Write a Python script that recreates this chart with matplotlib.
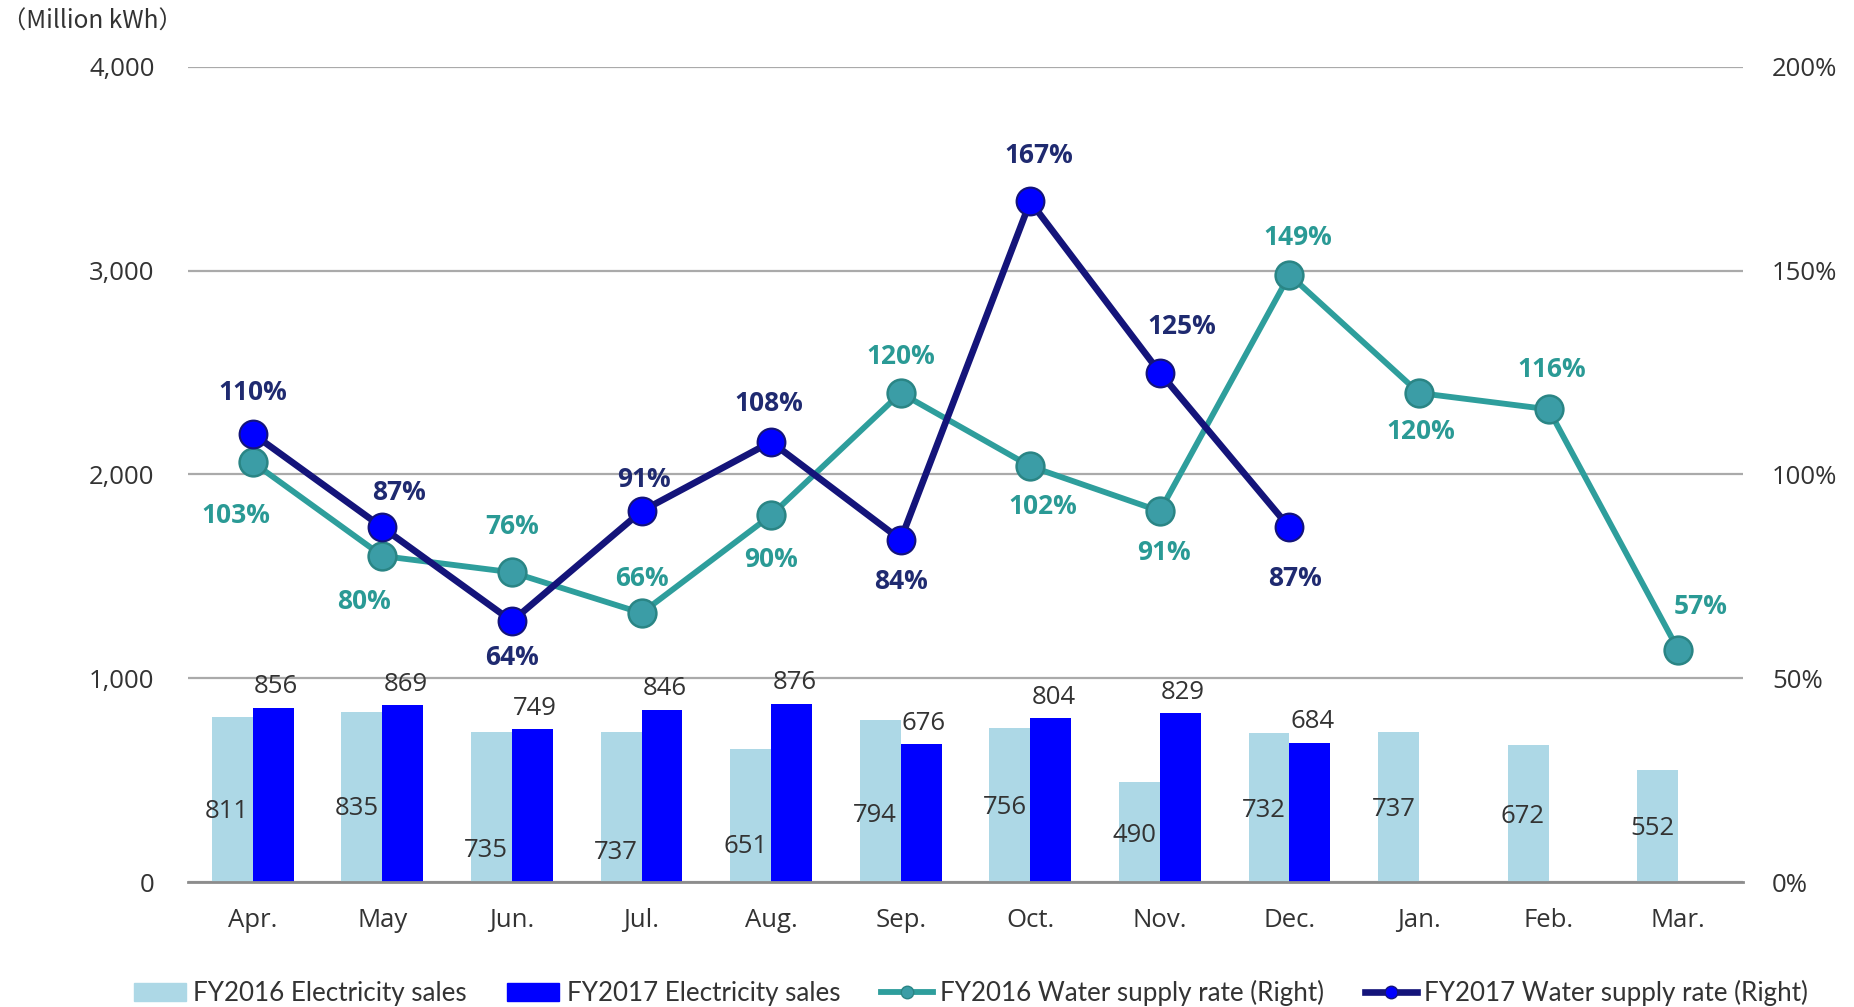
import matplotlib.pyplot as plt
from matplotlib.patches import Patch
from matplotlib.lines import Line2D
import numpy as np

# data
months = ['Apr.', 'May', 'Jun.', 'Jul.', 'Aug.', 'Sep.', 'Oct.', 'Nov.', 'Dec.', 'Jan.', 'Feb.', 'Mar.']
sales_2016 = [811, 835, 735, 737, 651, 794, 756, 490, 732, 737, 672, 552]
sales_2017 = [856, 869, 749, 846, 876, 676, 804, 829, 684]
water_2016 = [103, 80, 76, 66, 90, 120, 102, 91, 149, 120, 116, 57]
water_2017 = [110, 87, 64, 91, 108, 84, 167, 125, 87]

# label placement (layout only)
lbl16_y = [345, 362, 155, 143, 172, 328, 368, 230, 350, 356, 322, 265]
off16 = [(-12, -38), (-13, -33), (0, 33), (0, 25), (0, -32), (0, 26), (9, -29), (3, -30), (6, 27), (1, -28), (2, 29), (16, 31)]
off17 = [(0, 30), (12, 25), (0, -26), (2, 23), (-2, 28), (0, -30), (6, 33), (16, 33), (4, -37)]

c_light = '#ADD8E6'
c_blue = '#0000FF'
c_teal = '#2E9E9C'
c_navy = '#14147A'
c_teal_txt = '#2A9A95'
c_navy_txt = '#1F2A70'
c_txt = '#333333'

plt.rcParams['font.family'] = ['Open Sans', 'DejaVu Sans']

fig = plt.figure(figsize=(18.54, 10.07), dpi=100)
ax = fig.add_axes([188/1854, 1 - 882/1007, (1743 - 188)/1854, (882 - 67)/1007])
ax2 = ax.twinx()

x = np.arange(len(months))
w = 0.316
ax.bar(x - w/2, sales_2016, w, color=c_light, zorder=2)
x17 = x[:len(sales_2017)]
ax.bar(x17 + w/2, sales_2017, w, color=c_blue, zorder=2)

for i, v in enumerate(sales_2016):
    ax.text(x[i] - w/2 - 0.04, lbl16_y[i], str(v), ha='center', va='center', fontsize=18.5, color=c_txt, zorder=3)
for i, v in enumerate(sales_2017):
    ax.annotate(str(v), (x17[i] + w/2, v), xytext=(2, 15), textcoords='offset points',
                ha='center', va='center', fontsize=18.5, color=c_txt)

ax.set_xlim(-0.5, len(months) - 0.5)
ax.set_ylim(0, 4000)
ax.set_yticks([0, 1000, 2000, 3000, 4000])
ax.set_yticklabels(['0', '1,000', '2,000', '3,000', '4,000'])
ax.set_xticks(x)
ax.set_xticklabels(months)
ax.tick_params(axis='both', length=0, labelsize=18.5, colors=c_txt)
ax.tick_params(axis='y', pad=24)
ax.tick_params(axis='x', pad=19)
ax.grid(axis='y', color='#AAAAAA', linewidth=1.6, zorder=0)
ax.set_axisbelow(True)
for s in ['top', 'right', 'left']:
    ax.spines[s].set_visible(False)
ax.spines['bottom'].set_color('#8C8C8C')
ax.spines['bottom'].set_linewidth(2)

# lines on right axis
ax2.plot(x, np.array(water_2016) / 100, color=c_teal, linewidth=4.2, marker='o', markersize=20,
         markerfacecolor='#3B9DA6', markeredgecolor='#2A8585', markeredgewidth=1.8, zorder=4)
ax2.plot(x17, np.array(water_2017) / 100, color=c_navy, linewidth=4.8, marker='o', markersize=20,
         markerfacecolor=c_blue, markeredgecolor=c_navy, markeredgewidth=1.5, zorder=5)

for i, v in enumerate(water_2016):
    ax2.annotate(f'{v}%', (x[i], v / 100), xytext=off16[i], textcoords='offset points',
                 ha='center', va='center', fontsize=19, fontweight='bold', color=c_teal_txt)
for i, v in enumerate(water_2017):
    ax2.annotate(f'{v}%', (x17[i], v / 100), xytext=off17[i], textcoords='offset points',
                 ha='center', va='center', fontsize=19, fontweight='bold', color=c_navy_txt)

ax2.set_ylim(0, 2)
ax2.set_yticks([0, 0.5, 1, 1.5, 2])
ax2.set_yticklabels(['0%', '50%', '100%', '150%', '200%'])
ax2.tick_params(axis='y', length=0, labelsize=18.5, colors=c_txt, pad=21)
for s in ax2.spines.values():
    s.set_visible(False)

fig.text(2/1854, 1 - 22/1007, '（Million kWh）', family=['Noto Sans CJK JP', 'DejaVu Sans'],
         fontsize=17.5, color=c_txt, va='center', ha='left')

handles = [
    Patch(color=c_light),
    Patch(color=c_blue),
    Line2D([], [], color=c_teal, linewidth=4.2, marker='o', markersize=9, markerfacecolor='#3B9DA6', markeredgecolor='#2A8585'),
    Line2D([], [], color=c_navy, linewidth=4.8, marker='o', markersize=9, markerfacecolor=c_blue, markeredgecolor=c_navy),
]
labels = ['FY2016 Electricity sales', 'FY2017 Electricity sales',
          'FY2016 Water supply rate (Right)', 'FY2017 Water supply rate (Right)']
fig.legend(handles, labels, loc='center', bbox_to_anchor=(971/1854, 1 - 993/1007), ncol=4, frameon=False,
           prop={'family': 'Lato', 'size': 18.7}, handlelength=2.0, handletextpad=0.3, columnspacing=1.55,
           labelcolor=c_txt)

plt.savefig('out.png', dpi=100)
